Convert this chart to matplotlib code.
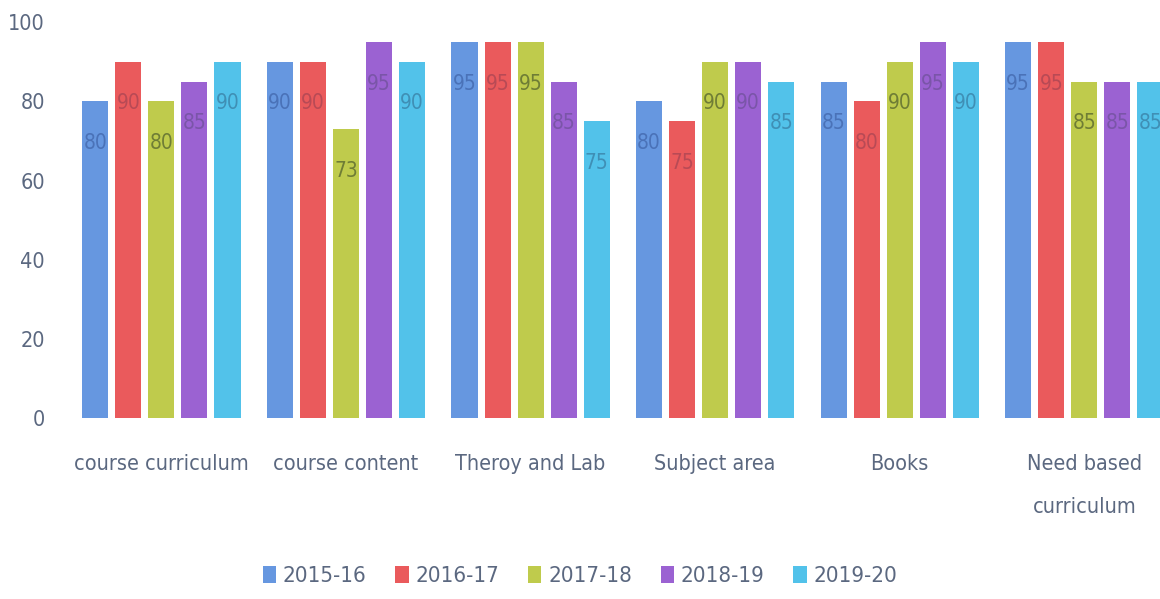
import matplotlib.pyplot as plt
import numpy as np

plt.rcParams['font.family'] = ['DejaVu Sans']
plt.rcParams['font.stretch'] = 'condensed'

categories = ['course curriculum', 'course content', 'Theroy and Lab', 'Subject area',
              'Books', 'Need based\ncurriculum']
years = ['2015-16', '2016-17', '2017-18', '2018-19', '2019-20']
y2015 = [80, 90, 95, 80, 85, 95]
y2016 = [90, 90, 95, 75, 80, 95]
y2017 = [80, 73, 95, 90, 90, 85]
y2018 = [85, 95, 85, 90, 95, 85]
y2019 = [90, 90, 75, 85, 90, 85]
series = [y2015, y2016, y2017, y2018, y2019]

colors = ['#6697e0', '#ea5a5c', '#bfcb4c', '#9b62d2', '#52c2ea']
text_colors = ['#4a72b8', '#b84a55', '#6f7d35', '#7a55a8', '#3f8fb5']

width = 0.141  # bar width
step = 0.179   # spacing between bars in a group

fig = plt.figure(figsize=(11.6, 5.99), dpi=100)
ax = fig.add_axes([0.065, 0.302, 0.935, 0.661])

x = np.arange(len(categories))
for i, (vals, c, tc) in enumerate(zip(series, colors, text_colors)):
    pos = x + (i - 2) * step
    ax.bar(pos, vals, width, color=c, label=years[i], zorder=2)
    for px, v in zip(pos, vals):
        ax.annotate(str(v), (px, v), xytext=(0, -30), textcoords='offset points',
                    ha='center', va='center', fontsize=15, color=tc, zorder=3)

ax.set_xlim(-0.466, 5.41)
ax.set_ylim(0, 100)
ax.set_yticks([0, 20, 40, 60, 80, 100])
ax.set_xticks(x)
ax.set_xticklabels(categories, va='top', linespacing=2.4)
ax.tick_params(axis='both', length=0, labelsize=15.5, colors='#5b6880')
ax.tick_params(axis='x', pad=26)
ax.tick_params(axis='y', pad=22)
for s in ax.spines.values():
    s.set_visible(False)

fig.legend(loc='lower center', bbox_to_anchor=(0.5, -0.012), ncol=5, frameon=False,
           fontsize=16, handlelength=0.6, handleheight=0.8, handletextpad=0.3,
           columnspacing=1.3, labelcolor='#5b6880')

fig.savefig('out.png', dpi=100)
